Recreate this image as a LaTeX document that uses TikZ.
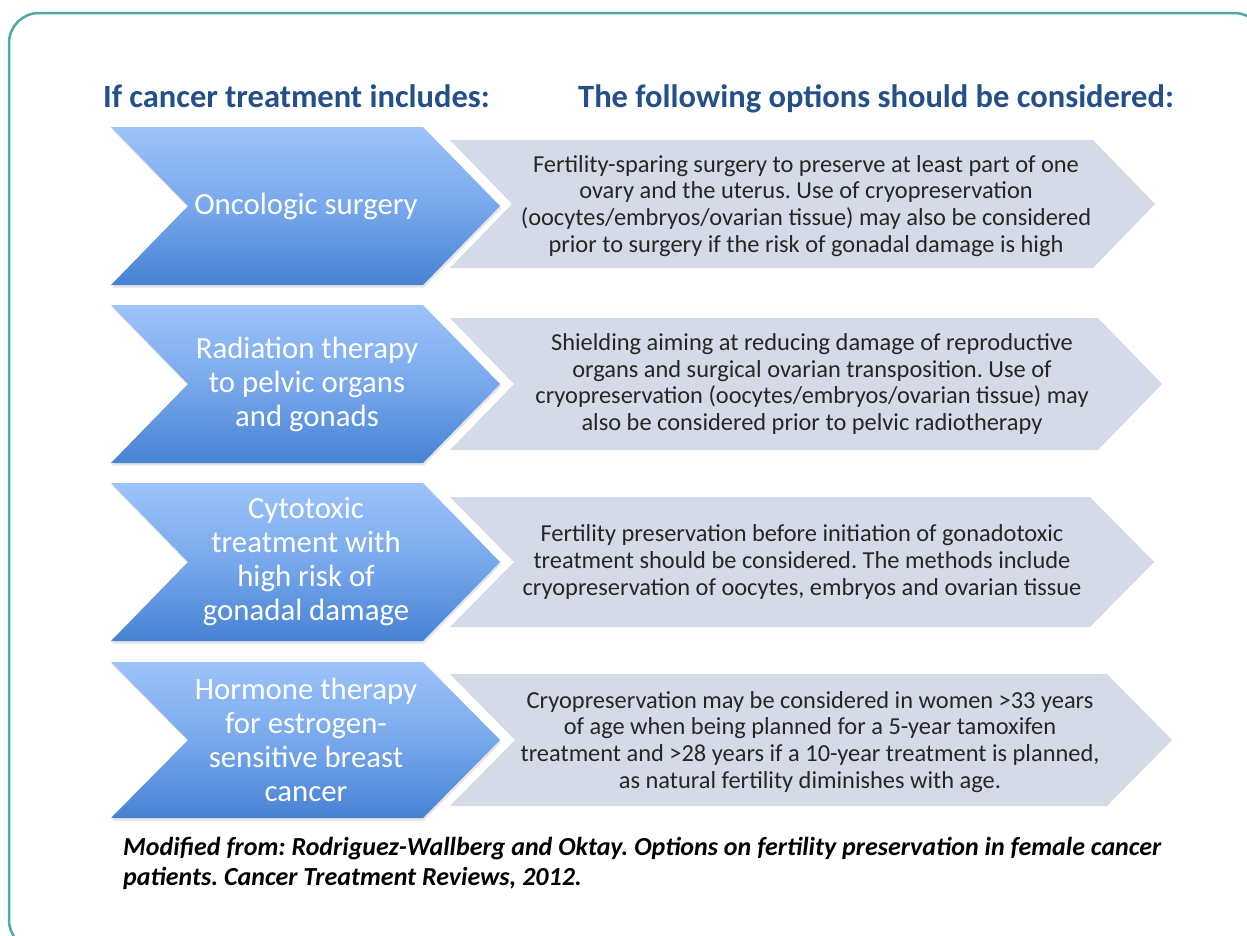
\documentclass[tikz,border=0pt]{standalone}
\usepackage{fontspec}
\setmainfont{Carlito}
\usetikzlibrary{shadows}
\frenchspacing
\definecolor{frameteal}{HTML}{4DAAA6}
\definecolor{headblue}{HTML}{24508A}
\definecolor{btop}{HTML}{9DC3FA}
\definecolor{bmid}{HTML}{78A8EC}
\definecolor{bbot}{HTML}{4682D3}
\definecolor{greyfill}{HTML}{D5DAE8}
\definecolor{bodytext}{HTML}{262626}
\tikzset{
  bluechev/.style={top color=btop, bottom color=bbot, middle color=bmid, draw=none,
    drop shadow={opacity=0.2, shadow xshift=1pt, shadow yshift=-2.5pt}},
  greychev/.style={fill=greyfill, draw=none},
  header/.style={font=\fontsize{32.5}{38}\selectfont\bfseries, text=headblue, inner sep=0pt},
  bluetext/.style={font=\fontsize{30.8}{34}\selectfont, text=white, align=center, inner sep=0pt},
  greytext/.style={font=\fontsize{24.4}{26.8}\selectfont, text=bodytext, align=center, inner sep=0pt},
  foot/.style={font=\fontsize{26}{30}\selectfont\bfseries\itshape, text=black, inner sep=0pt},
}
% chevron: style, left x, tip x, centre y, half height, depth
\newcommand{\chevshape}[6]{%
  \path[#1] ({#2},{#4-#5}) -- ({#3-#6},{#4-#5}) -- ({#3},{#4}) -- ({#3-#6},{#4+#5})
     -- ({#2},{#4+#5}) -- ({#2+#6},{#4}) -- cycle;}
\begin{document}
\begin{tikzpicture}[x=1pt,y=-1pt]
\useasboundingbox (0,0) rectangle (1247,935);
\fill[white] (0,0) rectangle (1247,935);
\draw[frameteal, line width=2.5pt, rounded corners=30pt] (9,13) rectangle (1264,950);

\node[header, anchor=base west] (h1) at (103,107) {If cancer treatment includes:};
\node[header, anchor=base west] (h2) at (578,107) {The following options should be considered:};

% row 1
\chevshape{greychev}{450}{1155}{204}{64}{62}
\chevshape{bluechev}{111}{500}{206}{79}{77}
\node[bluetext] (b1) at (306,206) {Oncologic surgery};
\node[greytext] (g1) at (806,206) {Fertility-sparing surgery to preserve at least part of one\\ovary and the uterus. Use of cryopreservation\\(oocytes/embryos/ovarian tissue) may also be considered\\prior to surgery if the risk of gonadal damage is high};

% row 2
\chevshape{greychev}{450}{1162}{384}{66}{64}
\chevshape{bluechev}{111}{500}{384}{79}{77}
\node[bluetext] (b2) at (307,384) {Radiation therapy\\to pelvic organs\\and gonads};
\node[greytext] (g2) at (812,384) {Shielding aiming at reducing damage of reproductive\\organs and surgical ovarian transposition. Use of\\cryopreservation (oocytes/embryos/ovarian tissue) may\\also be considered prior to pelvic radiotherapy};

% row 3
\chevshape{greychev}{450}{1154}{562}{65}{64}
\chevshape{bluechev}{111}{500}{562}{79}{77}
\node[bluetext] (b3) at (306,562) {Cytotoxic\\treatment with\\high risk of\\gonadal damage};
\node[greytext] (g3) at (802,562) {Fertility preservation before initiation of gonadotoxic\\treatment should be considered. The methods include\\cryopreservation of oocytes, embryos and ovarian tissue};

% row 4
\chevshape{greychev}{450}{1172}{740}{66}{65}
\chevshape{bluechev}{111}{500}{740}{78}{77}
\node[bluetext] (b4) at (306,740) {Hormone therapy\\for estrogen-\\sensitive breast\\cancer};
\node[greytext] (g4) at (810,742) {Cryopreservation may be considered in women >33 years\\of age when being planned for a 5-year tamoxifen\\treatment and >28 years if a 10-year treatment is planned,\\as natural fertility diminishes with age.};

\node[foot, anchor=base west] (f1) at (123,855) {Modified from: Rodriguez-Wallberg and Oktay. Options on fertility preservation in female cancer};
\node[foot, anchor=base west] (f2) at (123,885) {patients. Cancer Treatment Reviews, 2012.};
\end{tikzpicture}
\end{document}
